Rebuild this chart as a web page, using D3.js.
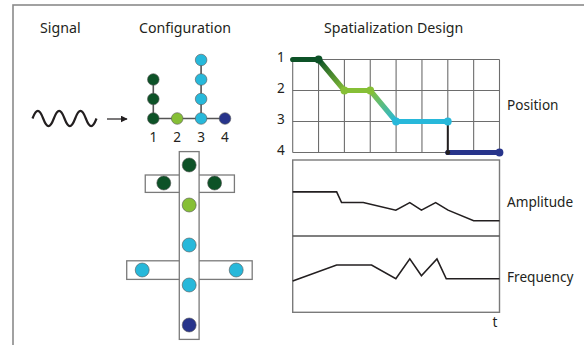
<!DOCTYPE html>
<html>
<head>
<script src="https://d3js.org/d3.v7.min.js"></script>
<style>
  body { margin: 0; background: #fff; }
  text { font-family: "Noto Sans", sans-serif; fill: #231f20; }
  .title { font-size: 14.2px; }
  .lbl { font-size: 13.6px; }
</style>
</head>
<body>
<script>
// ---- data ----
var titles = ["Signal", "Configuration", "Spatialization Design"];
var channels = [1, 2, 3, 4];
var channelColors = ["#0d5227", "#86bf36", "#27b8da", "#27348b"];
var channelCounts = [3, 1, 4, 1];           // speakers per channel in the tree
// physical layout (units: x across, y rows down)
var layoutX = [0, -1, 1, 0, 0, -1.85, 1.85, 0, 0];
var layoutY = [0, 0.9, 0.9, 2, 4, 5.25, 5.25, 6, 8];
var layoutCh = [1, 1, 1, 2, 3, 3, 3, 3, 4];
// position over time
var posLevels = [1, 2, 3, 4];
var posT = [0, 1, 2, 3, 4, 6, 6, 8];
var posV = [1, 1, 2, 2, 3, 3, 4, 4];
// amplitude and frequency over time
var ampT = [0, 1.7, 1.89, 2.73, 3.99, 4.53, 4.98, 5.53, 6.01, 7.0, 8];
var ampV = [5.8, 5.8, 4.4, 4.4, 3.4, 4.4, 3.4, 4.4, 3.4, 2.0, 2.0];
var freqT = [0, 1.7, 3.05, 3.99, 4.53, 4.98, 5.58, 5.94, 8];
var freqV = [4.1, 6.2, 6.2, 4.4, 7.0, 4.8, 7.0, 4.4, 4.4];
var rowLabels = ["Position", "Amplitude", "Frequency"];

var W = 584, H = 345;
var svg = d3.select("body").append("svg").attr("width", W).attr("height", H);
var defs = svg.append("defs");

// frame (cropped on the right and bottom)
svg.append("rect").attr("x", 13).attr("y", 5).attr("width", 620).attr("height", 400)
  .attr("fill", "none").attr("stroke", "#8a8a8a").attr("stroke-width", 1.6);

// titles
var titleX = [40, 139, 324];
svg.selectAll("text.title").data(titles).enter().append("text")
  .attr("class", "title").attr("x", function(d, i){ return titleX[i]; }).attr("y", 33)
  .text(function(d){ return d; });

// ---- signal glyph ----
var wave = d3.path();
var wx0 = 32.5, wx1 = 96.5, wy = 118.5, wa = 7.5, nWave = 3;
var per = (wx1 - wx0) / nWave;
wave.moveTo(wx0, wy);
for (var k = 0; k < nWave; k++) {
  var x = wx0 + k * per;
  wave.bezierCurveTo(x + per * 0.18, wy - wa * 1.35, x + per * 0.32, wy - wa * 1.35, x + per * 0.5, wy);
  wave.bezierCurveTo(x + per * 0.68, wy + wa * 1.35, x + per * 0.82, wy + wa * 1.35, x + per, wy);
}
svg.append("path").attr("d", wave.toString()).attr("fill", "none")
  .attr("stroke", "#231f20").attr("stroke-width", 2.2);
defs.append("marker").attr("id", "ah").attr("viewBox", "0 0 10 10")
  .attr("refX", 9).attr("refY", 5).attr("markerWidth", 7).attr("markerHeight", 7)
  .attr("markerUnits", "userSpaceOnUse").attr("orient", "auto")
  .append("path").attr("d", "M0,0L10,5L0,10z").attr("fill", "#231f20");
svg.append("line").attr("x1", 107).attr("x2", 127).attr("y1", 119).attr("y2", 119)
  .attr("stroke", "#231f20").attr("stroke-width", 1.2).attr("marker-end", "url(#ah)");

// ---- configuration tree ----
var cx = d3.scalePoint().domain(channels).range([153.3, 225]);
var cy = d3.scaleLinear().domain([0, 3]).range([118.5, 60]);
var color = d3.scaleOrdinal().domain(channels).range(channelColors);
var tree = svg.append("g");
tree.append("line").attr("x1", cx(1)).attr("x2", cx(4)).attr("y1", cy(0)).attr("y2", cy(0))
  .attr("stroke", "#555").attr("stroke-width", 1.6);
channels.forEach(function(c, i){
  tree.append("line").attr("x1", cx(c)).attr("x2", cx(c))
    .attr("y1", cy(0)).attr("y2", cy(channelCounts[i] - 1))
    .attr("stroke", "#555").attr("stroke-width", 1.6);
});
var treeNodes = [];
channels.forEach(function(c, i){ d3.range(channelCounts[i]).forEach(function(l){ treeNodes.push({c: c, l: l}); }); });
tree.selectAll("circle").data(treeNodes).enter().append("circle")
  .attr("cx", function(d){ return cx(d.c); }).attr("cy", function(d){ return cy(d.l); })
  .attr("r", 5.8).attr("fill", function(d){ return color(d.c); })
  .attr("stroke", "#555").attr("stroke-width", 0.6);
tree.selectAll("text").data(channels).enter().append("text").attr("class", "lbl")
  .attr("x", function(d){ return cx(d); }).attr("y", 141.5).attr("text-anchor", "middle")
  .text(function(d){ return d; });

// ---- physical layout ----
var lx = d3.scaleLinear().domain([0, 1]).range([189.2, 214.6]);
var ly = d3.scaleLinear().domain([0, 1]).range([165, 185]);
var lay = svg.append("g");
var box = function(x0, x1, y0, y1){
  lay.append("rect").attr("x", lx(x0)).attr("y", ly(y0))
    .attr("width", lx(x1) - lx(x0)).attr("height", ly(y1) - ly(y0))
    .attr("fill", "#fff").attr("stroke", "#7a7a7a").attr("stroke-width", 1.3);
};
box(-1.73, 1.78, 0.5, 1.37);
box(-2.46, 2.48, 4.79, 5.72);
box(-0.39, 0.39, -0.67, 8.72);
lay.selectAll("circle").data(layoutX).enter().append("circle")
  .attr("cx", function(d){ return lx(d); })
  .attr("cy", function(d, i){ return ly(layoutY[i]); })
  .attr("r", 7).attr("fill", function(d, i){ return color(layoutCh[i]); })
  .attr("stroke", "#555").attr("stroke-width", 0.6);

// ---- spatialization design ----
var tx = d3.scaleLinear().domain([0, 8]).range([292.7, 499.5]);
var py = d3.scaleLinear().domain([1, 4]).range([59.5, 152.5]);
var g = svg.append("g");
// grid
d3.range(0, 9).forEach(function(t){
  g.append("line").attr("x1", tx(t)).attr("x2", tx(t)).attr("y1", py(1)).attr("y2", py(4))
    .attr("stroke", "#6d6d6d").attr("stroke-width", 1.1);
});
posLevels.forEach(function(v){
  g.append("line").attr("x1", tx(0)).attr("x2", tx(8)).attr("y1", py(v)).attr("y2", py(v))
    .attr("stroke", "#6d6d6d").attr("stroke-width", 1.1);
});
g.selectAll("text.lvl").data(posLevels).enter().append("text").attr("class", "lbl lvl")
  .attr("x", 281).attr("y", function(d){ return py(d) + 2; })
  .attr("text-anchor", "middle").text(function(d){ return d; });

// position path segments
for (var s = 0; s < posT.length - 1; s++) {
  var x1 = tx(posT[s]), x2 = tx(posT[s + 1]), y1 = py(posV[s]), y2 = py(posV[s + 1]);
  var stroke, sw = 5.2;
  if (posT[s] === posT[s + 1]) { stroke = "#231f20"; sw = 2; }
  else if (posV[s] === posV[s + 1]) { stroke = color(posV[s]); }
  else {
    var gid = "gr" + s;
    var lg = defs.append("linearGradient").attr("id", gid).attr("gradientUnits", "userSpaceOnUse")
      .attr("x1", x1).attr("y1", y1).attr("x2", x2).attr("y2", y2);
    lg.append("stop").attr("offset", "0%").attr("stop-color", color(posV[s]));
    lg.append("stop").attr("offset", "100%").attr("stop-color", color(posV[s + 1]));
    stroke = "url(#" + gid + ")";
  }
  g.append("line").attr("x1", x1).attr("y1", y1).attr("x2", x2).attr("y2", y2)
    .attr("stroke", stroke).attr("stroke-width", sw).attr("stroke-linecap", sw > 3 ? "round" : "butt");
}
// joints (small black dot where the source lands after a jump)
var dots = d3.range(1, posT.length).map(function(j){
  return {t: posT[j], v: posV[j], jump: posT[j - 1] === posT[j]};
});
g.selectAll("circle.j").data(dots).enter().append("circle").attr("class", "j")
  .attr("cx", function(d){ return tx(d.t); }).attr("cy", function(d){ return py(d.v); })
  .attr("r", function(d){ return d.jump ? 2.4 : 3.9; })
  .attr("fill", function(d){ return d.jump ? "#231f20" : color(d.v); });

// amplitude / frequency panels
var ay = d3.scaleLinear().domain([0, 10]).range([236, 160]);
var fy = d3.scaleLinear().domain([0, 10]).range([312.3, 236]);
g.append("rect").attr("x", tx(0)).attr("y", ay(10)).attr("width", tx(8) - tx(0))
  .attr("height", fy(0) - ay(10)).attr("fill", "none").attr("stroke", "#7a7a7a").attr("stroke-width", 1.4);
g.append("line").attr("x1", tx(0)).attr("x2", tx(8)).attr("y1", ay(0)).attr("y2", ay(0))
  .attr("stroke", "#555").attr("stroke-width", 1.6);
var line = function(ys){ return d3.line().x(function(d){ return tx(d[0]); }).y(function(d){ return ys(d[1]); }); };
g.append("path").attr("d", line(ay)(d3.zip(ampT, ampV))).attr("fill", "none")
  .attr("stroke", "#231f20").attr("stroke-width", 1.6);
g.append("path").attr("d", line(fy)(d3.zip(freqT, freqV))).attr("fill", "none")
  .attr("stroke", "#231f20").attr("stroke-width", 1.6);
g.append("text").attr("class", "lbl").attr("x", 495).attr("y", 327).attr("text-anchor", "middle").text("t");

// row labels
var rowY = [110, 207, 282];
g.selectAll("text.row").data(rowLabels).enter().append("text").attr("class", "lbl row")
  .attr("x", 507).attr("y", function(d, i){ return rowY[i]; }).text(function(d){ return d; });
</script>
</body>
</html>
